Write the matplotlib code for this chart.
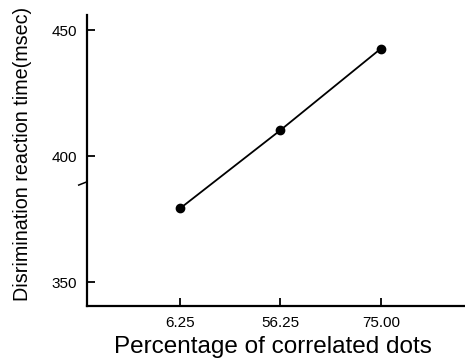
import matplotlib
matplotlib.use("Agg")
import matplotlib.pyplot as plt
from matplotlib.lines import Line2D

categories = ["6.25", "56.25", "75.00"]
reaction_time = [379.2, 410.3, 442.7]
y_ticks = [350, 400, 450]

plt.rcParams['font.family'] = ['Liberation Sans', 'DejaVu Sans']

fig = plt.figure(figsize=(4.65, 3.64), dpi=100)
ax = fig.add_axes([87/465, 1-306/364, (464-87)/465, (306-15)/364])

x = list(range(1, len(categories) + 1))
ax.plot(x, reaction_time, color='black', linewidth=1.3, marker='o', markersize=6)

ax.set_xlim(0.075, 3.826)
ax.set_ylim(340.5, 456)
ax.set_xticks(x)
ax.set_xticklabels(categories, fontsize=11)
ax.set_yticks(y_ticks)
ax.set_yticklabels([str(v) for v in y_ticks], fontsize=11)

for s in ['top', 'right']:
    ax.spines[s].set_visible(False)
for s in ['left', 'bottom']:
    ax.spines[s].set_linewidth(1.6)

ax.tick_params(axis='both', direction='in', length=6, width=1.3, colors='black')
ax.tick_params(axis='x', pad=7)
ax.tick_params(axis='y', pad=7)

ax.set_ylabel("Disrimination reaction time(msec)", fontsize=14.2)
ax.yaxis.set_label_coords(-0.146, 0.522)
ax.set_xlabel("Percentage of correlated dots", fontsize=17.5)
ax.xaxis.set_label_coords(0.492, -0.103)

# small break mark on the y axis
tr = ax.get_yaxis_transform()
brk = Line2D([-0.022, 0.0], [388.5, 389.8], transform=tr, color='black',
             linewidth=1.1, clip_on=False)
ax.add_line(brk)

fig.savefig("out.png", dpi=100)
